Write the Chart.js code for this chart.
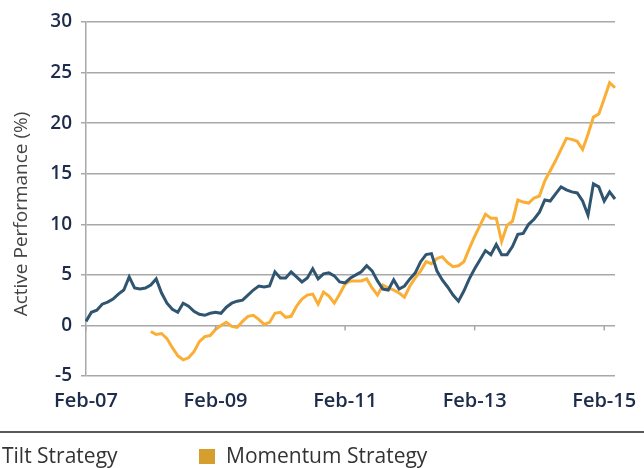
<!DOCTYPE html>
<html>
<head>
<meta charset="utf-8">
<script src="https://cdn.jsdelivr.net/npm/chart.js@4.4.0/dist/chart.umd.min.js"></script>
<style>
  html, body { margin: 0; padding: 0; background: #fff; overflow: hidden; }
  canvas { display: block; }
</style>
</head>
<body>
<canvas id="myChart" width="644" height="468"></canvas>
<script>
// monthly points, Feb-07 .. Apr-15
const startYear = 2007, startMonth = 1, numMonths = 99;
const monthNames = ['Jan','Feb','Mar','Apr','May','Jun','Jul','Aug','Sep','Oct','Nov','Dec'];
const categories = [];
for (let i = 0; i < numMonths; i++) {
  const m = (startMonth + i) % 12;
  const y = startYear + Math.floor((startMonth + i) / 12);
  categories.push(monthNames[m] + '-' + String(y % 100).padStart(2, '0'));
}
const tickLabels = ['Feb-07', 'Feb-09', 'Feb-11', 'Feb-13', 'Feb-15'];

const tilt = [
  0.4, 1.3, 1.5, 2.1, 2.3, 2.6, 3.1, 3.5, 4.8, 3.7,
  3.6, 3.7, 4.0, 4.6, 3.2, 2.2, 1.6, 1.3, 2.2, 1.9,
  1.4, 1.1, 1.0, 1.2, 1.3, 1.2, 1.8, 2.2, 2.4, 2.5,
  3.0, 3.5, 3.9, 3.8, 3.9, 5.3, 4.7, 4.7, 5.3, 4.8,
  4.3, 4.7, 5.6, 4.6, 5.1, 5.2, 4.9, 4.3, 4.2, 4.7,
  5.0, 5.3, 5.9, 5.4, 4.4, 3.6, 3.5, 4.5, 3.6, 3.9,
  4.6, 5.2, 6.3, 7.0, 7.1, 5.4, 4.5, 3.8, 3.0, 2.4,
  3.4, 4.6, 5.6, 6.5, 7.4, 7.0, 8.0, 7.0, 7.0, 7.8,
  9.0, 9.1, 10.0, 10.5, 11.2, 12.4, 12.3, 13.0, 13.7, 13.4,
  13.2, 13.1, 12.3, 10.9, 14.0, 13.7, 12.3, 13.2, 12.5
];

const momentum = [
  null, null, null, null, null, null, null, null, null, null,
  null, null, -0.6, -0.9, -0.8, -1.3, -2.2, -3.0, -3.4, -3.2,
  -2.6, -1.6, -1.1, -1.0, -0.4, 0.0, 0.3, -0.1, -0.2, 0.4,
  0.9, 1.0, 0.6, 0.1, 0.3, 1.2, 1.3, 0.8, 0.9, 1.9,
  2.6, 3.0, 3.1, 2.1, 3.3, 2.9, 2.2, 3.1, 4.1, 4.4,
  4.4, 4.4, 4.6, 3.7, 3.0, 4.0, 3.7, 3.5, 3.2, 2.8,
  3.9, 4.7, 5.4, 6.3, 6.1, 6.6, 6.8, 6.2, 5.8, 5.9,
  6.3, 7.6, 8.8, 9.9, 11.0, 10.6, 10.6, 8.3, 9.9, 10.3,
  12.4, 12.2, 12.1, 12.6, 12.8, 14.3, 15.3, 16.3, 17.4, 18.5,
  18.4, 18.2, 17.4, 18.9, 20.6, 20.9, 22.4, 24.0, 23.5
];

const tiltColor = '#2f5571';
const momColor = '#fbae35';
const gridColor = '#a8a8a8';
const navy = '#1d2c4c';

// extra drawing: zero-line ticks, y title, separator, legend
const extras = {
  id: 'extras',
  afterDraw(chart) {
    const ctx = chart.ctx;
    const x = chart.scales.x, y = chart.scales.y;
    ctx.save();
    // tick marks on the zero line
    const y0 = y.getPixelForValue(0);
    ctx.strokeStyle = gridColor;
    ctx.lineWidth = 1.5;
    categories.forEach((c, i) => {
      if (tickLabels.includes(c)) {
        const px = x.getPixelForValue(i);
        ctx.beginPath();
        ctx.moveTo(px, y0);
        ctx.lineTo(px, y0 + 5);
        ctx.stroke();
      }
    });
    // y axis title
    ctx.fillStyle = '#444';
    ctx.font = '19px "Open Sans"';
    ctx.textAlign = 'center';
    ctx.textBaseline = 'middle';
    ctx.translate(22, 214);
    ctx.rotate(-Math.PI / 2);
    ctx.fillText('Active Performance (%)', 0, 0);
    ctx.restore();

    ctx.save();
    // separator
    ctx.strokeStyle = '#222';
    ctx.lineWidth = 1.5;
    ctx.beginPath();
    ctx.moveTo(0, 432);
    ctx.lineTo(644, 432);
    ctx.stroke();
    // legend
    ctx.font = '21px "Open Sans"';
    ctx.textBaseline = 'middle';
    ctx.textAlign = 'left';
    ctx.fillStyle = tiltColor;
    ctx.fillRect(-25, 449, 16, 15);
    ctx.fillStyle = '#d69e2c';
    ctx.fillRect(199, 449, 16, 15);
    ctx.fillStyle = '#333';
    ctx.fillText('Tilt Strategy', 2, 457);
    ctx.fillText('Momentum Strategy', 226, 457);
    ctx.restore();
  }
};

var ctx = document.getElementById('myChart').getContext('2d');
var chart = new Chart(ctx, {
  type: 'line',
  data: {
    labels: categories,
    datasets: [
      {
        label: 'Tilt Strategy',
        data: tilt,
        borderColor: tiltColor,
        borderWidth: 3,
        pointRadius: 0,
        tension: 0
      },
      {
        label: 'Momentum Strategy',
        data: momentum,
        borderColor: momColor,
        borderWidth: 3,
        pointRadius: 0,
        tension: 0
      }
    ]
  },
  options: {
    responsive: false,
    animation: false,
    layout: { padding: { left: 0, right: 29, top: 22, bottom: 52 } },
    plugins: {
      legend: { display: false },
      tooltip: { enabled: false }
    },
    scales: {
      x: {
        offset: false,
        grid: { display: false },
        border: { display: false },
        ticks: {
          autoSkip: false,
          maxRotation: 0,
          padding: 5,
          color: navy,
          font: { family: 'Open Sans', size: 20, weight: '600' },
          callback: function(value, index) {
            const c = categories[index];
            return tickLabels.includes(c) ? c : '';
          }
        },
        afterFit: function(scale) { scale.height = 40; }
      },
      y: {
        min: -5,
        max: 30,
        ticks: {
          stepSize: 5,
          padding: 9,
          color: navy,
          font: { family: 'Open Sans', size: 19, weight: '600' }
        },
        grid: { color: gridColor, lineWidth: 1.5, tickLength: 5 },
        border: { display: true, color: gridColor, width: 1.5 },
        afterFit: function(scale) { scale.width = 86; }
      }
    }
  },
  plugins: [extras]
});
</script>
</body>
</html>
